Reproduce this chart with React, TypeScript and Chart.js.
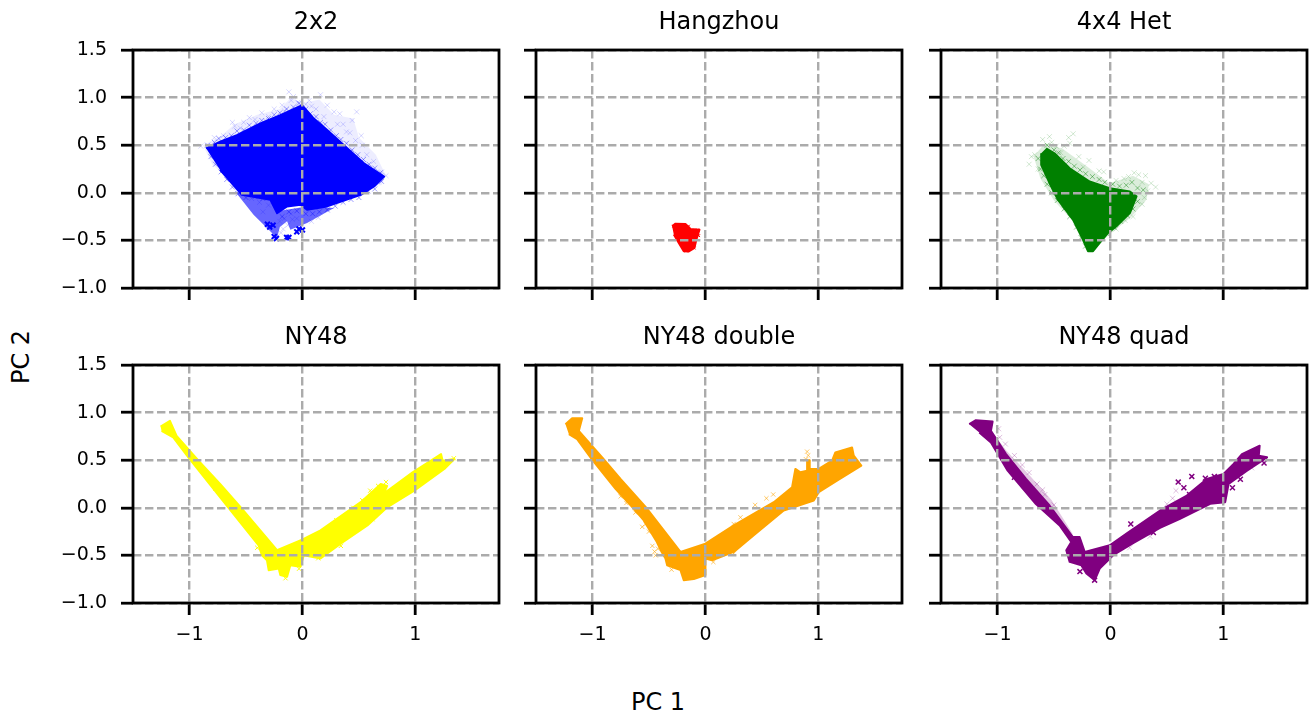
import React, { useEffect, useRef } from "react";
import { Chart, registerables } from "chart.js";

Chart.register(...registerables);

type Pt = [number, number];

const xTicks = [-1, 0, 1];
const yTicks = [-1, -0.5, 0, 0.5, 1, 1.5];
const yMin = -1;
const yMax = 1.5;
const xMin = -1.5;
const xMax = 1.74;

// ---- 2x2 ----
const blueCore: Pt[] = [[-.853,.467],[-.729,.537],[-.581,.606],[-.373,.728],[-.196,.815],[-.003,.92],[.101,.78],[.219,.659],[.397,.467],[.545,.31],[.723,.171],[.634,.066],[.516,-.021],[.219,-.143],[.041,-.178],[-.018,-.125],[-.136,-.143],[-.225,-.213],[-.284,-.073],[-.536,-.021],[-.729,.24]];
const blueMid: Pt[] = [[-.596,.014],[-.433,-.23],[-.314,-.369],[-.225,-.474],[-.2,-.36],[-.136,-.3],[-.107,-.387],[.041,-.317],[.279,-.16],[.041,-.143],[-.225,-.195],[-.284,-.073]];
const blueHaze: Pt[] = [[-.88,.5],[-.72,.6],[-.6,.72],[-.4,.82],[-.2,.88],[-.1,1.0],[0,.94],[.15,.98],[.28,.82],[.45,.78],[.5,.58],[.65,.4],[.74,.18],[.7,.08],[-.5,-.02],[-.8,.3]];
const bluePoints: Pt[] = [[-.62,.74],[-.6,.7],[-.52,.74],[-.47,.79],[-.42,.77],[-.36,.84],[-.3,.8],[-.25,.88],[-.18,.92],[-.12,1.06],[-.1,.97],[-.08,1.01],[-.04,.95],[.03,.93],[.08,.91],[.16,1.03],[.12,.88],[.22,.92],[.28,.85],[.33,.83],[.44,.76],[.48,.85],[.36,.72],[.42,.63],[.52,.6],[.53,.5],[.57,.4],[.63,.33],[.7,.22],[.74,.18],[-.9,.49],[-.78,.58],[-.7,.6],[-.45,-.06],[-.38,-.1],[-.35,-.2],[-.3,-.13],[-.1,-.22],[-.05,-.27],[.08,-.3],[.14,-.26],[-.55,.68],[-.33,.76],[-.16,.86],[.06,.97],[.19,.8],[.31,.72],[.39,.64],[.47,.55],[-.2,-.3],[-.17,-.38],[-.13,-.34],[-.16,-.27],[-.19,-.42],[-.09,-.28]];
const blueEdge: Pt[] = [[-.84,.5],[-.78,.53],[-.74,.57],[-.68,.58],[-.63,.6],[-.58,.65],[-.52,.66],[-.47,.71],[-.41,.73],[-.36,.76],[-.3,.78],[-.25,.82],[-.2,.84],[-.14,.88],[-.08,.9],[-.03,.94],[.03,.88],[.07,.83],[.12,.8],[.16,.74],[.2,.72],[.25,.66],[.3,.6],[.34,.56],[.39,.52],[.44,.45],[.49,.4],[.54,.35],[.59,.3],[.64,.26],[.69,.21],[.7,.12],[.64,.04],[.58,.02],[.5,-.05],[.43,-.07],[.36,-.1],[.29,-.14],[.22,-.18],[.15,-.2],[.09,-.22],[.03,-.22],[-.05,-.19],[-.12,-.2],[-.18,-.25],[-.81,.38],[-.77,.3],[-.72,.22],[-.67,.14],[-.62,.06],[-.57,-.01],[-.5,-.05],[-.42,-.04],[-.35,-.06]];
const blueDark: Pt[] = [[-.31,-.33],[-.29,-.36],[-.26,-.34],[-.25,-.46],[-.23,-.48],[-.14,-.47],[-.12,-.47],[-.05,-.41],[-.03,-.38],[.0,-.39]];

// ---- Hangzhou ----
const redCore: Pt[] = [[-.295,-.352],[-.265,-.324],[-.177,-.328],[-.133,-.38],[-.053,-.387],[-.08,-.491],[-.097,-.578],[-.147,-.617],[-.192,-.613],[-.236,-.526],[-.28,-.439]];
const redPoints: Pt[] = [[-.28,-.35],[-.24,-.34],[-.15,-.35],[-.07,-.39],[-.06,-.45],[-.1,-.58],[-.17,-.61]];

// ---- 4x4 Het ----
const greenCore: Pt[] = [[-.569,.467],[-.495,.415],[-.361,.258],[-.184,.118],[-.006,.049],[.172,.014],[.231,-.038],[.172,-.213],[.053,-.352],[-.021,-.422],[-.095,-.526],[-.154,-.613],[-.199,-.613],[-.258,-.456],[-.332,-.282],[-.465,-.073],[-.539,.101],[-.613,.293],[-.613,.415]];
const greenHaze: Pt[] = [[-.68,.38],[-.58,.52],[-.42,.46],[-.21,.28],[-.01,.1],[.2,.18],[.34,.09],[.32,-.07],[.18,-.26],[.03,-.4],[-.1,-.53],[-.3,-.34],[-.5,-.08],[-.62,.15]];
const greenPoints: Pt[] = [[-.54,.59],[-.52,.53],[-.33,.62],[-.37,.58],[-.41,.49],[-.36,.52],[-.28,.38],[-.19,.34],[-.1,.23],[-.06,.22],[.05,.13],[.21,.21],[.25,.19],[.31,.18],[.36,.1],[.4,.06],[.33,.02],[.3,-.05],[.28,-.12],[.2,-.25],[.13,-.29],[.05,-.38],[-.72,.3],[-.7,.38],[-.64,.25],[-.67,.4],[-.6,.56],[-.48,.49],[-.44,.42],[-.24,.27],[.12,.15],[.28,.11],[.16,.17]];
const greenEdge: Pt[] = [[-.56,.5],[-.5,.45],[-.46,.42],[-.42,.36],[-.37,.33],[-.32,.28],[-.27,.24],[-.22,.2],[-.16,.17],[-.1,.14],[-.05,.11],[.02,.09],[.08,.07],[.14,.08],[.19,.11],[.24,.05],[.29,.03],[.24,-.09],[.2,-.17],[.15,-.24],[.09,-.3],[.03,-.36],[-.03,-.43],[-.64,.36],[-.62,.25],[-.59,.18],[-.56,.09],[-.52,0],[-.47,-.08],[-.41,-.17],[-.36,-.25],[-.3,-.36],[-.26,-.47],[-.22,-.56]];

// ---- NY48 ----
const yellowCore: Pt[] = [[-1.256,.854],[-1.173,.913],[-1.114,.756],[-.92,.495],[-.729,.251],[-.536,-.01],[-.225,-.446],[-.003,-.334],[.16,-.237],[.516,.059],[.693,.251],[.75,.23],[.72,.15],[.975,.373],[1.227,.564],[1.241,.495],[1.345,.512],[1.256,.408],[.99,.181],[.753,.007],[.575,-.185],[.338,-.376],[.16,-.533],[.012,-.498],[-.018,-.62],[-.107,-.603],[-.136,-.725],[-.196,-.707],[-.21,-.638],[-.299,-.655],[-.314,-.551],[-.359,-.498],[-.388,-.394],[-.67,.024],[-1.01,.53],[-1.144,.739],[-1.247,.808]];
const yellowPoints: Pt[] = [[-.77,.2],[.53,.08],[.6,.18],[.67,.23],[.74,.27],[.34,-.4],[.14,-.53],[-.15,-.74],[-.03,-.64],[1.34,.52],[.9,.15],[.45,.0],[.3,-.13],[.62,-.12],[.22,-.44],[-.4,-.42]];

// ---- NY48 double ----
const orangeCore: Pt[] = [[-1.239,.878],[-1.18,.941],[-1.091,.941],[-1.121,.808],[-.914,.53],[-.752,.303],[-.516,-.01],[-.221,-.463],[0,-.376],[.251,-.185],[.605,.059],[.767,.216],[.796,.408],[.841,.373],[.9,.39],[.9,.5],[.92,.5],[.923,.408],[1.003,.408],[1.121,.495],[1.15,.582],[1.298,.634],[1.313,.547],[1.38,.443],[1.165,.286],[1.003,.164],[.959,.077],[.693,-.028],[.428,-.289],[.251,-.463],[.059,-.551],[0,-.533],[0,-.707],[-.103,-.749],[-.192,-.76],[-.221,-.655],[-.339,-.603],[-.354,-.533],[-.39,-.46],[-.43,-.36],[-.546,-.132],[-.634,-.01],[-.796,.2],[-1.0,.5],[-1.136,.721],[-1.209,.773]];
const orangePoints: Pt[] = [[.54,.1],[.6,.14],[.37,-.13],[.25,-.17],[-.56,-.2],[-.5,-.25],[-.62,-.05],[-.75,.12],[.07,-.57],[.25,-.48],[-.3,-.65],[-.42,-.43],[-.45,-.46],[-.47,-.4],[-.44,-.5],[.91,.55],[.9,.59],[.89,.51],[-.7,.05],[-.53,-.17],[.44,.03],[.31,-.1]];

// ---- NY48 quad ----
const purpleCore: Pt[] = [[-1.25,.878],[-1.191,.92],[-1.043,.906],[-1.058,.808],[-.924,.564],[-.747,.303],[-.539,.024],[-.332,-.307],[-.273,-.307],[-.228,-.463],[-.006,-.394],[.142,-.272],[.439,-.028],[.676,.129],[.853,.303],[1.001,.355],[1.09,.46],[1.164,.564],[1.321,.652],[1.313,.547],[1.387,.53],[1.209,.39],[1.046,.251],[1.016,.059],[.883,.042],[.616,-.115],[.439,-.21],[.201,-.37],[.024,-.498],[-.095,-.638],[-.139,-.76],[-.213,-.69],[-.258,-.603],[-.361,-.568],[-.391,-.446],[-.347,-.359],[-.45,-.185],[-.66,.04],[-.91,.39],[-1.058,.686],[-1.161,.791]];
const purpleHaze: Pt[] = [[-1.05,.8],[-.92,.6],[-.73,.36],[-.52,.08],[-.33,-.28],[-.45,-.15],[-.7,.2],[-.95,.5]];
const purpleDark: Pt[] = [[.72,.33],[.84,.31],[.65,.21],[.18,-.17],[-.27,-.67],[-.14,-.76],[1.36,.47],[1.15,.3],[-.85,.32],[1.08,.21],[.38,-.26],[.6,.27],[.92,.33],[.7,.14],[.48,-.05]];
const purpleSoft: Pt[] = [[-.98,.74],[-.85,.55],[-.78,.45],[-.65,.25],[-.6,.19],[-.5,.03],[.55,.1],[.58,.18],[.5,.04],[.65,-.04],[.75,.0],[.35,-.3],[.17,-.42],[1.25,.42],[-.99,.83],[-.93,.67],[-.72,.37],[-.58,.14]];

type Layer = { data: Pt[]; color: string; poly: boolean; radius?: number; width?: number };

const panels: { title: string; left: number; top: number; layers: Layer[]; xLabels: boolean; yLabels: boolean }[] = [
  { title: "2x2", left: 133, top: 50, xLabels: false, yLabels: true, layers: [
    { data: blueHaze, color: "rgba(0,0,255,0.07)", poly: true },
    { data: bluePoints, color: "rgba(0,0,255,0.16)", poly: false, radius: 3.5 },
    { data: blueMid, color: "rgba(0,0,255,0.6)", poly: true },
    { data: blueEdge, color: "rgba(0,0,255,0.4)", poly: false, radius: 3.5 },
    { data: blueCore, color: "rgb(0,0,255)", poly: true },
    { data: blueDark, color: "rgb(0,0,255)", poly: false, radius: 3.5, width: 2 },
  ] },
  { title: "Hangzhou", left: 536, top: 50, xLabels: false, yLabels: false, layers: [
    { data: redCore, color: "rgb(255,0,0)", poly: true },
    { data: redPoints, color: "rgb(255,0,0)", poly: false, radius: 2 },
  ] },
  { title: "4x4 Het", left: 941, top: 50, xLabels: false, yLabels: false, layers: [
    { data: greenHaze, color: "rgba(0,128,0,0.14)", poly: true },
    { data: greenPoints, color: "rgba(0,128,0,0.18)", poly: false, radius: 3.5 },
    { data: greenEdge, color: "rgba(0,128,0,0.45)", poly: false, radius: 3.5 },
    { data: greenCore, color: "rgb(0,128,0)", poly: true },
  ] },
  { title: "NY48", left: 133, top: 365, xLabels: true, yLabels: true, layers: [
    { data: yellowCore, color: "rgb(255,255,0)", poly: true },
    { data: yellowPoints, color: "rgb(255,255,0)", poly: false, radius: 3 },
  ] },
  { title: "NY48 double", left: 536, top: 365, xLabels: true, yLabels: false, layers: [
    { data: orangeCore, color: "rgb(255,165,0)", poly: true },
    { data: orangePoints, color: "rgba(255,165,0,0.6)", poly: false, radius: 3 },
  ] },
  { title: "NY48 quad", left: 941, top: 365, xLabels: true, yLabels: false, layers: [
    { data: purpleHaze, color: "rgba(128,0,128,0.22)", poly: true },
    { data: purpleSoft, color: "rgba(128,0,128,0.25)", poly: false, radius: 3.5 },
    { data: purpleCore, color: "rgb(128,0,128)", poly: true },
    { data: purpleDark, color: "rgb(128,0,128)", poly: false, radius: 3.5, width: 1.5 },
  ] },
];

const FONT = "'DejaVu Sans'";
const AXIS_W = 80;
const PLOT_W = 366;
const PLOT_H = 238;
const TITLE_BLOCK = 42;
const BOTTOM = 50;
const GRID = "#ababab";

const frame = {
  id: "frame",
  afterDraw(chart: any) {
    const { ctx, chartArea: a } = chart;
    ctx.save();
    ctx.strokeStyle = "#000";
    ctx.lineWidth = 2.8;
    ctx.strokeRect(a.left, a.top, a.right - a.left, a.bottom - a.top);
    ctx.restore();
  },
};

function Panel({ p }: { p: (typeof panels)[number] }) {
  const ref = useRef<HTMLCanvasElement>(null);
  const width = AXIS_W + PLOT_W + 12;
  const height = TITLE_BLOCK + PLOT_H + BOTTOM;
  useEffect(() => {
    const chart = new Chart(ref.current as HTMLCanvasElement, {
      type: "scatter",
      data: {
        datasets: p.layers.map((l) => ({
          data: l.data.map(([x, y]) => ({ x, y })),
          showLine: l.poly,
          fill: l.poly ? "shape" : false,
          backgroundColor: l.color,
          borderColor: l.color,
          borderWidth: l.poly ? (l.color.startsWith("rgba") ? 0 : 2) : (l.width ?? 1),
          borderJoinStyle: "round",
          pointRadius: l.poly ? 0 : (l.radius ?? 4),
          pointStyle: "crossRot",
          tension: 0,
        })),
      } as any,
      options: {
        animation: false,
        responsive: false,
        devicePixelRatio: 1,
        layout: { padding: { right: 12, left: 0, top: 0, bottom: 0 } },
        plugins: {
          legend: { display: false },
          tooltip: { enabled: false },
          title: {
            display: true,
            fullSize: false,
            text: p.title,
            color: "#000",
            font: { family: FONT, size: 24, weight: "normal" },
            padding: { top: 0, bottom: 13.2 },
          },
        },
        scales: {
          x: {
            type: "linear",
            min: xMin,
            max: xMax,
            afterBuildTicks: (s: any) => { s.ticks = xTicks.map((value) => ({ value })); },
            afterFit: (s: any) => { s.height = BOTTOM; },
            grid: { z: 1, color: GRID, lineWidth: 2.4, tickLength: 12, tickColor: "#000", tickWidth: 2.8, tickBorderDash: [] },
            border: { display: false, dash: [8.4, 3.6] },
            ticks: {
              display: p.xLabels,
              color: "#000",
              padding: 9,
              maxRotation: 0,
              font: { family: FONT, size: 19 },
              callback: (v: any) => String(v).replace("-", "\u2212"),
            },
          },
          y: {
            type: "linear",
            min: yMin,
            max: yMax,
            afterBuildTicks: (s: any) => { s.ticks = yTicks.map((value) => ({ value })); },
            afterFit: (s: any) => { s.width = AXIS_W; },
            grid: { z: 1, color: GRID, lineWidth: 2.4, tickLength: 12, tickColor: "#000", tickWidth: 2.8, tickBorderDash: [] },
            border: { display: false, dash: [8.4, 3.6] },
            ticks: {
              display: p.yLabels,
              color: "#000",
              padding: 14,
              font: { family: FONT, size: 19 },
              callback: (v: any) => Number(v).toFixed(1).replace("-", "\u2212"),
            },
          },
        },
      } as any,
      plugins: [frame],
    });
    return () => chart.destroy();
  }, []);
  return (
    <canvas
      ref={ref}
      width={width}
      height={height}
      style={{ position: "absolute", left: p.left - AXIS_W, top: p.top - TITLE_BLOCK, width, height }}
    />
  );
}

const labelStyle: React.CSSProperties = {
  position: "absolute",
  fontFamily: FONT,
  fontSize: 24,
  color: "#000",
  whiteSpace: "nowrap",
  lineHeight: "28px",
};

export default function App() {
  return (
    <div style={{ position: "absolute", left: 0, top: 0, width: 1312, height: 715, background: "#fff", overflow: "hidden" }}>
      {panels.map((p) => (
        <Panel key={p.title} p={p} />
      ))}
      <div style={{ ...labelStyle, left: 631, top: 688 }}>PC 1</div>
      <div style={{ ...labelStyle, left: 21, top: 357, transform: "translate(-50%,-50%) rotate(-90deg)" }}>PC 2</div>
    </div>
  );
}
